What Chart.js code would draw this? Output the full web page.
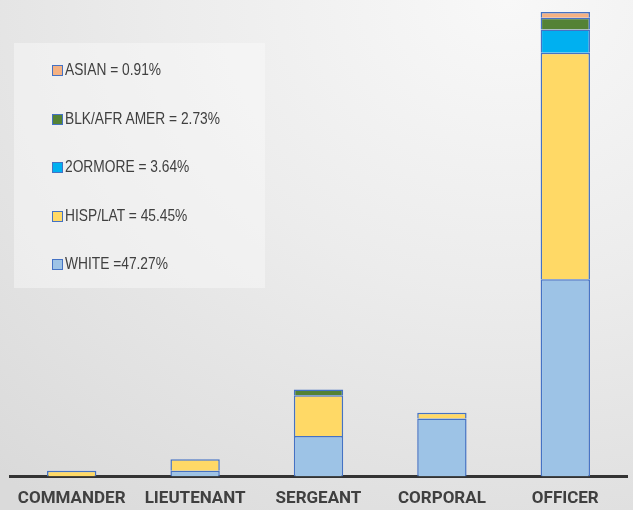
<!DOCTYPE html>
<html>
<head>
<meta charset="utf-8">
<script src="https://cdn.jsdelivr.net/npm/chart.js@4"></script>
<style>
  html, body { margin: 0; padding: 0; }
  body {
    width: 633px; height: 510px; overflow: hidden; position: relative;
    background: radial-gradient(ellipse 120% 125% at 80% 0%, #f8f8f8 0%, #ececec 45%, #dadada 100%);
  }
  #wrap { position: absolute; left: 0; top: 0; width: 633px; height: 510px; }
  #legend {
    position: absolute; left: 14px; top: 43px; width: 251px; height: 245px;
    background: rgba(250, 250, 250, 0.45);
    font-family: "Liberation Sans", sans-serif;
    font-size: 17px; color: #404040;
  }
  .item { position: absolute; left: 38px; height: 20px; line-height: 20px; white-space: nowrap; }
  .sw {
    display: inline-block; width: 9px; height: 9px; border: 1.5px solid #4472c4;
    vertical-align: -1px; margin-right: 2px;
  }
  .txt { display: inline-block; transform: scaleX(0.81); transform-origin: 0 50%; }
</style>
</head>
<body>
<div id="wrap"><canvas id="myChart" width="633" height="510"></canvas></div>
<div id="legend"></div>
<script>
var ranks = ["COMMANDER", "LIEUTENANT", "SERGEANT", "CORPORAL", "OFFICER"];

// head counts per rank
var white = [0, 1, 7, 10, 34];
var hispLat = [1, 2, 7, 1, 39];
var twoOrMore = [0, 0, 0, 0, 4];
var blkAfrAmer = [0, 0, 1, 0, 2];
var asian = [0, 0, 0, 0, 1];

var legendLabels = ["WHITE =47.27%", "HISP/LAT = 45.45%", "2ORMORE = 3.64%", "BLK/AFR AMER = 2.73%", "ASIAN = 0.91%"];
var colors = ["#9dc3e6", "#ffd966", "#00b0f0", "#548235", "#f4b183"];

var series = [white, hispLat, twoOrMore, blkAfrAmer, asian];

// legend, top item is the last series
var legend = document.getElementById("legend");
for (var i = series.length - 1; i >= 0; i--) {
    var row = document.createElement("div");
    row.className = "item";
    row.style.top = (17 + (series.length - 1 - i) * 48.5) + "px";
    row.innerHTML = '<span class="sw" style="background:' + colors[i] + '"></span><span class="txt">' + legendLabels[i] + '</span>';
    legend.appendChild(row);
}

var datasets = [];
for (var i = 0; i < series.length; i++) {
    datasets.push({
        label: legendLabels[i],
        data: series[i],
        backgroundColor: colors[i],
        borderColor: "#4472c4",
        borderWidth: 1.5,
        barPercentage: 0.4,
        categoryPercentage: 1
    });
}

var ctx = document.getElementById("myChart").getContext('2d');
var myChart = new Chart(ctx, {
    type: 'bar',
    data: {
        labels: ranks,
        datasets: datasets
    },
    options: {
        responsive: false,
        animation: false,
        layout: { padding: { left: 10, right: 6, top: 12, bottom: -11 } },
        plugins: {
            legend: { display: false },
            tooltip: { enabled: false }
        },
        scales: {
            x: {
                stacked: true,
                grid: { display: false, drawTicks: false },
                border: { display: true, color: "#333333", width: 3 },
                ticks: {
                    color: "#404040",
                    padding: 12,
                    maxRotation: 0,
                    autoSkip: false,
                    font: { family: "Roboto, sans-serif", size: 17, weight: 'bold' }
                }
            },
            y: {
                stacked: true,
                display: false,
                min: 0,
                max: 80
            }
        }
    }
});
</script>
</body>
</html>
